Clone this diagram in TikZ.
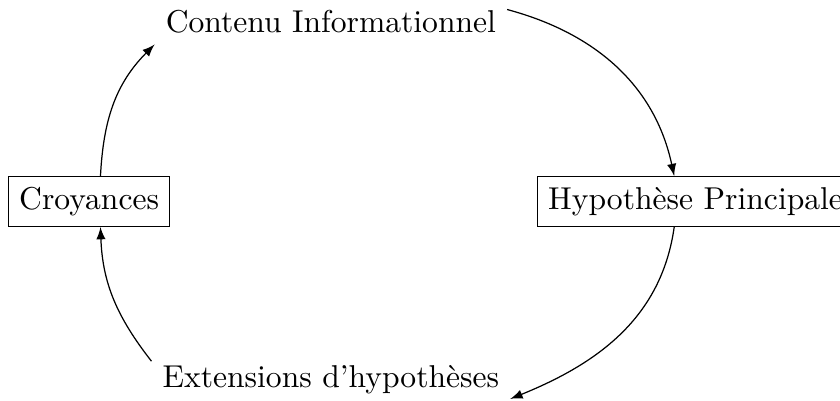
\documentclass[tikz,border=0pt]{standalone}
\usepackage{amsmath, amssymb}
\usepackage{tikz}

\tikzset{
  cadre/.style={draw, rectangle},
  fleche/.style={-latex}
}

\begin{document}
\begin{tikzpicture}[every node/.style={scale=1.03}]
\useasboundingbox (0,0) rectangle (9.622,-4.593);
\node (cont) at (3.79,-0.25) {Contenu Informationnel};
\node[cadre, anchor=west] (croy) at (0.092,-2.308) {Croyances};
\node[cadre, anchor=west] (hyp) at (6.151,-2.308) {Hypoth\`ese Principale};
\node (ext) at (3.79,-4.353) {Extensions d'hypoth\`eses};

\draw[fleche] (croy.66) to[out=87, in=225] (cont.south west);
\draw[fleche] (cont.4) to[out=-15, in=102] (hyp.130);
\draw[fleche] (hyp.230) to[out=-98, in=22] (ext.-6);
\draw[fleche] (ext.174) to[out=128, in=-88] (croy.294);

\end{tikzpicture}
\end{document}
